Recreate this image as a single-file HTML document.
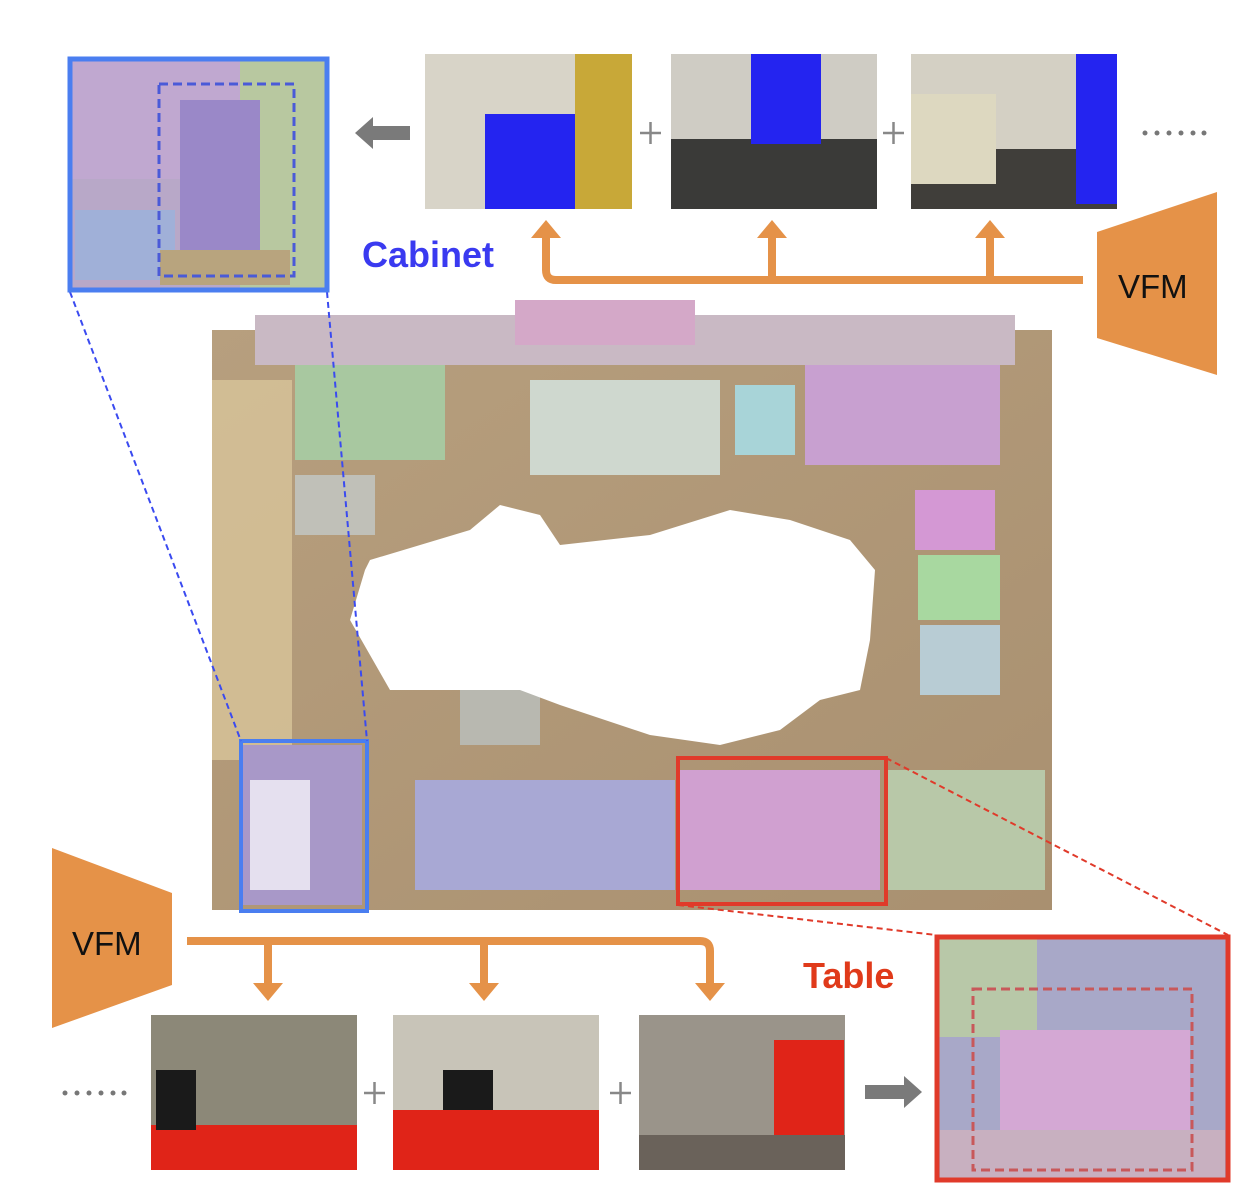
<!DOCTYPE html>
<html><head><meta charset="utf-8"><style>
body{margin:0;background:#fff;width:1254px;height:1198px;position:relative;overflow:hidden;font-family:"Liberation Sans",sans-serif}
.a{position:absolute}
.photo{position:absolute;overflow:hidden;background:#9a9488}
</style></head><body>
<svg class="a" style="left:0;top:0" width="1254" height="1198">
<defs>
<linearGradient id="fl" x1="0" y1="0" x2="1" y2="1"><stop offset="0" stop-color="#b79f7e"/><stop offset="1" stop-color="#a99070"/></linearGradient>
</defs>
<rect x="212" y="330" width="840" height="580" fill="url(#fl)"/>
<rect x="212" y="380" width="80" height="380" fill="#d8c49a" opacity=".8"/>
<rect x="255" y="315" width="760" height="50" fill="#c9b9c4"/>
<rect x="515" y="300" width="180" height="45" fill="#d4a8c8"/>
<rect x="295" y="365" width="150" height="95" fill="#a8c8a0"/>
<rect x="530" y="380" width="190" height="95" fill="#cfd8cf"/>
<rect x="735" y="385" width="60" height="70" fill="#a8d4d8"/>
<rect x="805" y="365" width="195" height="100" fill="#c8a0d0"/>
<rect x="915" y="490" width="80" height="60" fill="#d498d4"/>
<rect x="918" y="555" width="82" height="65" fill="#a8d8a0"/>
<rect x="920" y="625" width="80" height="70" fill="#b8ccd4"/>
<rect x="415" y="780" width="260" height="110" fill="#a8a8d4"/>
<rect x="680" y="770" width="200" height="120" fill="#d0a0d0"/>
<rect x="885" y="770" width="160" height="120" fill="#b8c8a8"/>
<rect x="242" y="745" width="120" height="160" fill="#a898c8"/>
<rect x="460" y="690" width="80" height="55" fill="#b8b8b0"/>
<rect x="295" y="475" width="80" height="60" fill="#c0c0b8"/>
<path d="M370 560 L470 530 L500 505 L540 515 L560 545 L650 535 L730 510 L790 520 L850 540 L875 570 L870 640 L860 690 L820 700 L780 730 L720 745 L650 735 L560 705 L520 690 L450 690 L390 690 L350 620 L365 570Z" fill="#fff"/>
<rect x="250" y="780" width="60" height="110" fill="#fff" opacity=".7"/>
<rect x="241" y="741" width="126" height="170" fill="none" stroke="#4a7ef0" stroke-width="4"/>
<rect x="678" y="758" width="208" height="146" fill="none" stroke="#e03a2a" stroke-width="4"/>
<line x1="70" y1="292" x2="241" y2="741" stroke="#3a4af0" stroke-width="2" stroke-dasharray="6,4"/>
<line x1="327" y1="292" x2="367" y2="741" stroke="#3a4af0" stroke-width="2" stroke-dasharray="6,4"/>
<line x1="886" y1="758" x2="1228" y2="935" stroke="#e03a2a" stroke-width="2" stroke-dasharray="6,4"/>
<line x1="678" y1="905" x2="936" y2="935" stroke="#e03a2a" stroke-width="2" stroke-dasharray="6,4"/>
<rect x="70" y="59" width="257" height="231" fill="#b8a8c8"/>
<rect x="70" y="59" width="257" height="120" fill="#c0a8d0"/>
<rect x="240" y="59" width="87" height="231" fill="#b8c8a0"/>
<rect x="180" y="100" width="80" height="160" fill="#9a88c8"/>
<rect x="75" y="210" width="100" height="70" fill="#a0b0d8"/>
<rect x="160" y="250" width="130" height="35" fill="#b8a47e"/>
<rect x="70" y="59" width="257" height="231" fill="none" stroke="#4a7ef0" stroke-width="5"/>
<rect x="159" y="84" width="135" height="192" fill="none" stroke="#4a5ad8" stroke-width="3" stroke-dasharray="9,5"/>
<rect x="937" y="937" width="291" height="243" fill="#a8a8c8"/>
<rect x="937" y="937" width="100" height="100" fill="#b8c8a8"/>
<rect x="1000" y="1030" width="190" height="100" fill="#d4a8d4"/>
<rect x="940" y="1130" width="285" height="48" fill="#c8b0c0"/>
<rect x="937" y="937" width="291" height="243" fill="none" stroke="#e03a2a" stroke-width="5"/>
<rect x="973" y="989" width="219" height="181" fill="none" stroke="#c8585a" stroke-width="3" stroke-dasharray="9,5"/>
<g stroke="#e59248" stroke-width="8" fill="none">
<path d="M1083 280 H556 Q546 280 546 270 V236"/>
<line x1="772" y1="280" x2="772" y2="236"/>
<line x1="990" y1="280" x2="990" y2="236"/>
<path d="M187 941 H700 Q710 941 710 951 V985"/>
<line x1="268" y1="941" x2="268" y2="985"/>
<line x1="484" y1="941" x2="484" y2="985"/>
</g>
<g fill="#e59248">
<polygon points="531,238 561,238 546,220"/>
<polygon points="757,238 787,238 772,220"/>
<polygon points="975,238 1005,238 990,220"/>
<polygon points="253,983 283,983 268,1001"/>
<polygon points="469,983 499,983 484,1001"/>
<polygon points="695,983 725,983 710,1001"/>
<polygon points="1097,232 1217,192 1217,375 1097,338"/>
<polygon points="52,848 172,893 172,985 52,1028"/>
</g>
<polygon points="355,133 373,117 373,126 410,126 410,140 373,140 373,149" fill="#7a7a7a"/>
<polygon points="922,1092 904,1076 904,1085 865,1085 865,1099 904,1099 904,1108" fill="#7a7a7a"/>
<g fill="#777">
<circle cx="1145" cy="133" r="2.5"/><circle cx="1157" cy="133" r="2.5"/><circle cx="1169" cy="133" r="2.5"/><circle cx="1181" cy="133" r="2.5"/><circle cx="1193" cy="133" r="2.5"/><circle cx="1204" cy="133" r="2.5"/>
<circle cx="65" cy="1093" r="2.5"/><circle cx="77" cy="1093" r="2.5"/><circle cx="89" cy="1093" r="2.5"/><circle cx="101" cy="1093" r="2.5"/><circle cx="113" cy="1093" r="2.5"/><circle cx="124" cy="1093" r="2.5"/>
</g>
<g stroke="#888" stroke-width="2.5">
<line x1="640" y1="133" x2="661" y2="133"/><line x1="650.5" y1="122" x2="650.5" y2="144"/>
<line x1="883" y1="133" x2="904" y2="133"/><line x1="893.5" y1="122" x2="893.5" y2="144"/>
<line x1="364" y1="1093" x2="385" y2="1093"/><line x1="374.5" y1="1082" x2="374.5" y2="1104"/>
<line x1="610" y1="1093" x2="631" y2="1093"/><line x1="620.5" y1="1082" x2="620.5" y2="1104"/>
</g>
</svg>
<div class="photo" style="left:425px;top:54px;width:207px;height:155px;background:#d8d4c8"><div class="a" style="left:60px;top:60px;width:90px;height:95px;background:#2424f0"></div><div class="a" style="left:150px;top:0;width:57px;height:155px;background:#c8a838"></div></div>
<div class="photo" style="left:671px;top:54px;width:206px;height:155px;background:#cfccc4"><div class="a" style="left:0;top:85px;width:206px;height:70px;background:#3a3a38"></div><div class="a" style="left:80px;top:0;width:70px;height:90px;background:#2424f0"></div></div>
<div class="photo" style="left:911px;top:54px;width:206px;height:155px;background:#d4d0c4"><div class="a" style="left:0;top:95px;width:206px;height:60px;background:#403e3a"></div><div class="a" style="left:0;top:40px;width:85px;height:90px;background:#ddd8c0"></div><div class="a" style="left:165px;top:0;width:41px;height:150px;background:#2424f0"></div></div>
<div class="photo" style="left:151px;top:1015px;width:206px;height:155px;background:#8c8878"><div class="a" style="left:0;top:110px;width:206px;height:45px;background:#e02418"></div><div class="a" style="left:5px;top:55px;width:40px;height:60px;background:#1a1a1a"></div></div>
<div class="photo" style="left:393px;top:1015px;width:206px;height:155px;background:#c8c4b8"><div class="a" style="left:0;top:95px;width:206px;height:60px;background:#e02418"></div><div class="a" style="left:50px;top:55px;width:50px;height:40px;background:#1a1a1a"></div></div>
<div class="photo" style="left:639px;top:1015px;width:206px;height:155px;background:#9a948a"><div class="a" style="left:135px;top:25px;width:70px;height:100px;background:#e02418"></div><div class="a" style="left:0;top:120px;width:206px;height:35px;background:#6a625a"></div></div>
<div class="a" style="left:362px;top:234px;font-size:36px;font-weight:bold;color:#3a3af0">Cabinet</div>
<div class="a" style="left:803px;top:955px;font-size:36px;font-weight:bold;color:#e03a1a">Table</div>
<div class="a" style="left:1118px;top:268px;font-size:33px;color:#111">VFM</div>
<div class="a" style="left:72px;top:925px;font-size:33px;color:#111">VFM</div>
</body></html>
